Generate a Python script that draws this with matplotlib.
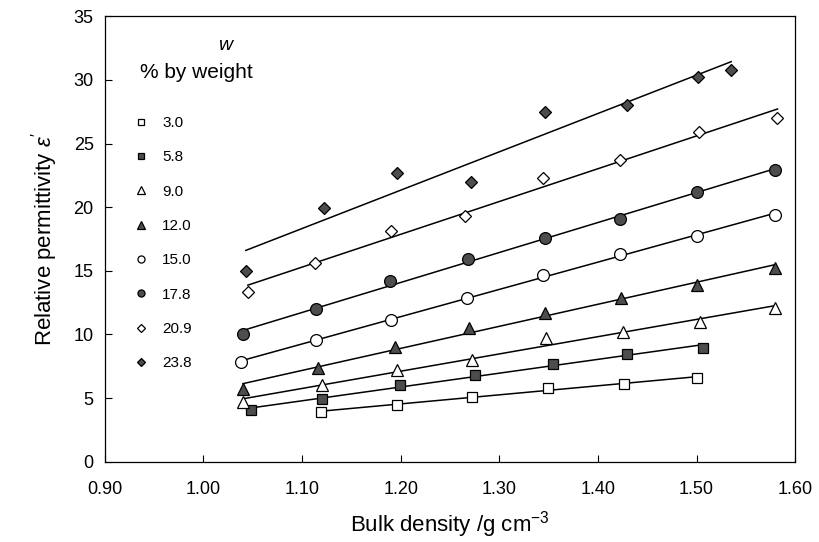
import matplotlib
matplotlib.use("Agg")
import matplotlib.pyplot as plt
import numpy as np

plt.rcParams['font.family'] = ['Liberation Sans', 'DejaVu Sans']
plt.rcParams['mathtext.fontset'] = 'custom'
plt.rcParams['mathtext.rm'] = 'Liberation Sans'
plt.rcParams['mathtext.it'] = 'Liberation Sans:italic'

# water content, % by weight
w_labels = ["3.0", "5.8", "9.0", "12.0", "15.0", "17.8", "20.9", "23.8"]

x_30 = [1.119, 1.196, 1.272, 1.349, 1.426, 1.500]
y_30 = [3.9, 4.5, 5.1, 5.8, 6.1, 6.6]

x_58 = [1.048, 1.120, 1.199, 1.275, 1.354, 1.429, 1.506]
y_58 = [4.1, 4.9, 6.0, 6.8, 7.7, 8.5, 8.9]

x_90 = [1.040, 1.120, 1.196, 1.272, 1.347, 1.425, 1.503, 1.579]
y_90 = [4.7, 6.0, 7.2, 8.0, 9.7, 10.2, 11.0, 12.1]

x_120 = [1.040, 1.116, 1.194, 1.269, 1.346, 1.423, 1.500, 1.579]
y_120 = [5.7, 7.4, 9.0, 10.5, 11.7, 12.9, 13.9, 15.2]

x_150 = [1.038, 1.114, 1.190, 1.267, 1.344, 1.422, 1.500, 1.579]
y_150 = [7.8, 9.6, 11.1, 12.9, 14.7, 16.3, 17.7, 19.4]

x_178 = [1.040, 1.114, 1.189, 1.268, 1.346, 1.422, 1.500, 1.579]
y_178 = [10.0, 12.0, 14.2, 15.9, 17.6, 19.1, 21.2, 22.9]

x_209 = [1.045, 1.113, 1.190, 1.265, 1.344, 1.422, 1.502, 1.582]
y_209 = [13.3, 15.6, 18.1, 19.3, 22.3, 23.7, 25.9, 27.0]

x_238 = [1.043, 1.122, 1.196, 1.271, 1.346, 1.429, 1.501, 1.535]
y_238 = [15.0, 19.9, 22.7, 22.0, 27.5, 28.0, 30.2, 30.8]

xs = [x_30, x_58, x_90, x_120, x_150, x_178, x_209, x_238]
ys = [y_30, y_58, y_90, y_120, y_150, y_178, y_209, y_238]

dark = '#4d4d4d'
styles = [
    dict(marker='s', mfc='white', ms=7.5),
    dict(marker='s', mfc=dark, ms=7.5),
    dict(marker='^', mfc='white', ms=8.5),
    dict(marker='^', mfc=dark, ms=8.5),
    dict(marker='o', mfc='white', ms=8.5),
    dict(marker='o', mfc=dark, ms=8.5),
    dict(marker='D', mfc='white', ms=6.5),
    dict(marker='D', mfc=dark, ms=6.5),
]

fig = plt.figure(figsize=(8.19, 5.42), dpi=100)
ax = fig.add_axes([0.128, 0.148, 0.843, 0.822])

handles = []
for xv, yv, st, lab in zip(xs, ys, styles, w_labels):
    xa = np.array(xv)
    ya = np.array(yv)
    k, b = np.polyfit(xa, ya, 1)
    xl = np.array([xa.min(), xa.max()])
    ax.plot(xl, k * xl + b, color='black', lw=1.1, zorder=2)
    h, = ax.plot(xa, ya, linestyle='none', marker=st['marker'], mfc=st['mfc'],
                 mec='black', mew=0.9, ms=st['ms'], zorder=3, label=lab)
    handles.append(h)

ax.set_xlim(0.90, 1.60)
ax.set_ylim(0, 35)
ax.set_xticks(np.arange(0.90, 1.601, 0.10))
ax.set_xticklabels(["0.90", "1.00", "1.10", "1.20", "1.30", "1.40", "1.50", "1.60"])
ax.set_yticks(np.arange(0, 36, 5))
ax.tick_params(direction='in', length=5, width=0.8, labelsize=13, pad=8)
ax.tick_params(axis='x', pad=14)
for s in ax.spines.values():
    s.set_linewidth(0.9)

ax.set_xlabel("Bulk density /g cm$^{-3}$", fontsize=16, labelpad=8)
ax.set_ylabel("Relative permittivity $\\varepsilon'$", fontsize=16, labelpad=10)

leg = ax.legend(handles=handles, loc='upper left', bbox_to_anchor=(0.033, 0.79),
                frameon=False, fontsize=11, markerscale=0.6, labelspacing=1.33,
                handlelength=1.0, handletextpad=0.85, borderaxespad=0)

ax.text(0.177, 0.935, "$w$", transform=ax.transAxes, fontsize=14, ha='center', va='center')
ax.text(0.133, 0.873, "% by weight", transform=ax.transAxes, fontsize=15, ha='center', va='center')

fig.savefig("out.png", dpi=100)
